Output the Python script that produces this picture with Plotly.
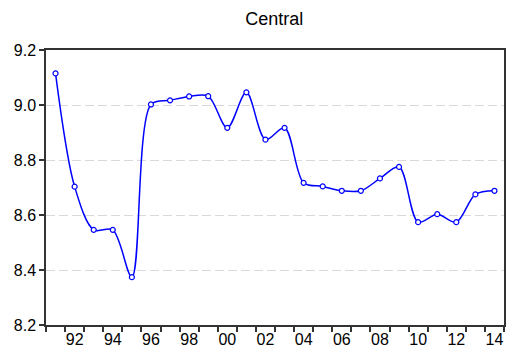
import plotly.graph_objects as go

years = list(range(1991, 2015))
values = [9.115, 8.703, 8.546, 8.546, 8.374, 9.002, 9.017, 9.031, 9.032, 8.917,
          9.046, 8.874, 8.917, 8.717, 8.704, 8.688, 8.688, 8.733, 8.775, 8.574,
          8.603, 8.574, 8.675, 8.688]
xtick_vals = list(range(1992, 2015, 2))
xtick_text = ["92", "94", "96", "98", "00", "02", "04", "06", "08", "10", "12", "14"]
ytick_vals = [8.2, 8.4, 8.6, 8.8, 9.0, 9.2]
ytick_text = ["8.2", "8.4", "8.6", "8.8", "9.0", "9.2"]

fig = go.Figure()
fig.add_trace(go.Scatter(
    x=years, y=values, mode="lines+markers",
    line=dict(color="#0000FF", width=1.5, shape="spline", smoothing=0.9),
    marker=dict(symbol="circle", size=5, color="white",
                line=dict(color="#0000FF", width=1.2)),
    showlegend=False,
))

# page has an 8px body margin, so the figure is sized to fit the 515x355 window
fig.update_layout(
    width=507, height=347,
    margin=dict(l=38, r=11, t=42, b=30, autoexpand=False),
    paper_bgcolor="white", plot_bgcolor="white",
    font=dict(family="Liberation Sans, Arial, sans-serif", size=16, color="black"),
    title=dict(text="Central", x=0.525, xanchor="center", y=0.986, yanchor="top",
               font=dict(size=18, color="black")),
)
fig.update_xaxes(
    range=[1990.5, 2014.5], tickvals=xtick_vals, ticktext=xtick_text,
    ticks="", showgrid=False, zeroline=False, automargin=False,
    showline=True, linecolor="#333333", linewidth=1.5, mirror=True,
    minor=dict(tick0=1990.5, dtick=1, ticks="outside", ticklen=5,
               tickcolor="#333333", tickwidth=1.5, showgrid=False),
    tickfont=dict(size=16), ticklabelstandoff=-1,
)
fig.update_yaxes(
    range=[8.2, 9.2], tickvals=ytick_vals, ticktext=ytick_text,
    ticks="outside", ticklen=5, tickcolor="#333333", tickwidth=1.5,
    showgrid=True, gridcolor="#D9D9D9", gridwidth=1, griddash="9px,4px",
    zeroline=False, automargin=False,
    showline=True, linecolor="#333333", linewidth=1.5, mirror=True,
    tickfont=dict(size=16),
)

fig.write_html("out.html")
